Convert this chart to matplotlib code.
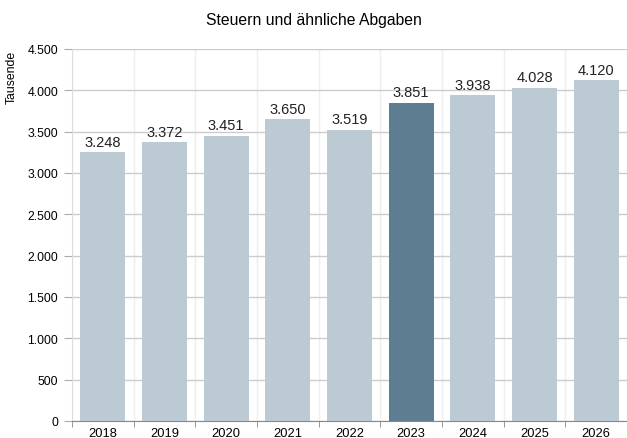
import numpy as np
import matplotlib.pyplot as plt

plt.rcParams['font.family'] = ['Liberation Sans', 'DejaVu Sans']

years = ['2018', '2019', '2020', '2021', '2022', '2023', '2024', '2025', '2026']
values = [3248, 3372, 3451, 3650, 3519, 3851, 3938, 4028, 4120]
labels = ['3.248', '3.372', '3.451', '3.650', '3.519', '3.851', '3.938', '4.028', '4.120']
highlight = '2023'

fig = plt.figure(figsize=(6.27, 4.39), dpi=100)
ax = fig.add_axes([72 / 627, 17 / 439, 555 / 627, 372 / 439])

x = np.arange(len(years))
colors = ['#5f7d91' if y == highlight else '#bccad4' for y in years]
ax.bar(x, values, width=0.73, color=colors, zorder=2)

for xi, v, lab in zip(x, values, labels):
    ax.text(xi, v + 45, lab, ha='center', va='bottom', fontsize=10.5, color='#222222')

ax.set_xlim(-0.5, len(years) - 0.5)
ax.set_ylim(0, 4500)
ax.set_yticks(np.arange(0, 4501, 500))
ax.set_yticklabels([f'{v:,}'.replace(',', '.') for v in range(0, 4501, 500)])
ax.set_xticks(x)
ax.set_xticklabels(years)
ax.set_xticks(np.arange(-0.5, len(years), 1), minor=True)
ax.tick_params(axis='x', which='major', length=0, labelsize=9.3, pad=4)
ax.tick_params(axis='x', which='minor', length=4, color='#888888')
ax.tick_params(axis='y', length=6, color='#aaaaaa', labelsize=8.8, pad=4)

ax.grid(axis='y', color='#cccccc', linewidth=1, zorder=0)
ax.grid(axis='x', which='minor', color='#eeeeee', linewidth=1, zorder=0)

for s in ['top', 'right']:
    ax.spines[s].set_visible(False)
ax.spines['left'].set_color('#dddddd')
ax.spines['bottom'].set_color('#888888')

ax.set_ylabel('Tausende', fontsize=8.8, labelpad=2)
ax.yaxis.set_label_coords(-0.097, 0.925)
fig.text(0.5, 0.953, 'Steuern und ähnliche Abgaben', ha='center', va='center', fontsize=11.3)

fig.savefig('out.png', dpi=100)
